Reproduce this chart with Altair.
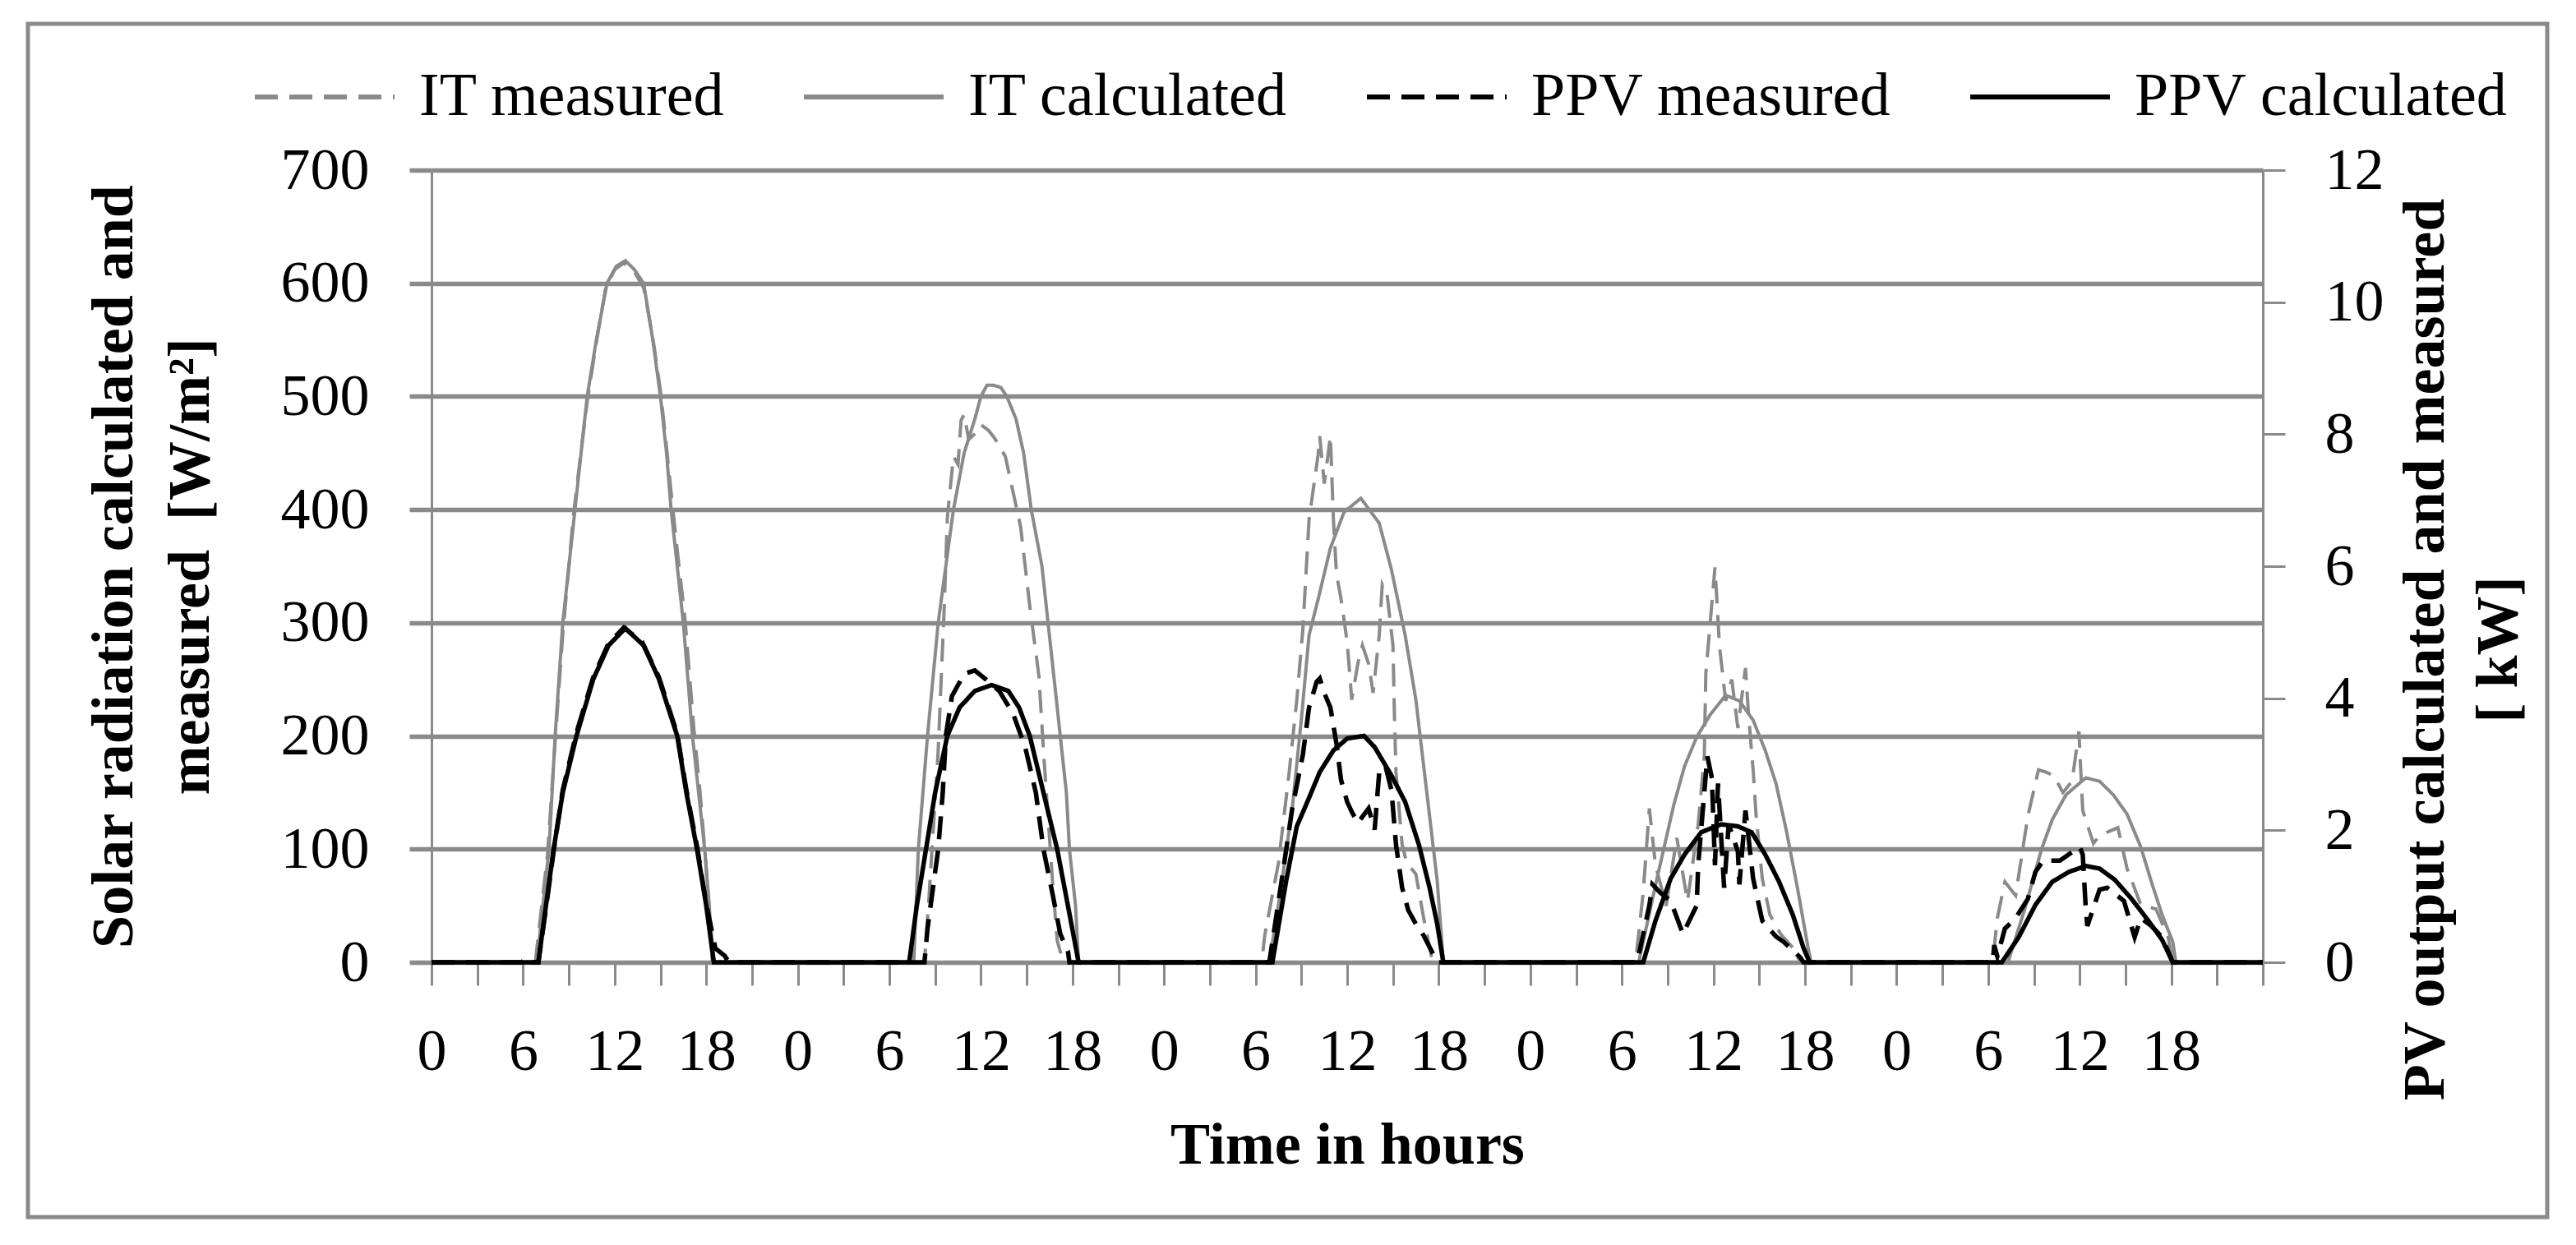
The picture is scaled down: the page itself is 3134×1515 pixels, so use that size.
import altair as alt
import pandas as pd

FONT = "Liberation Serif"
GRID = "#8a8a8a"
LINE_GRAY = "#8a8a8a"

SERIES = ["IT measured", "IT calculated", "PPV measured", "PPV calculated"]
COLORS = [LINE_GRAY, LINE_GRAY, "#000000", "#000000"]
DASHES = [[28, 14], [1, 0], [28, 14], [1, 0]]
N_DAYS = 5
X_TICKS = list(range(0, 121, 3))
LEFT_TICKS = list(range(0, 701, 100))
RIGHT_TICKS = list(range(0, 13, 2))

# hour of day (per day) and value; zero outside listed daylight hours
IT_MEAS_H = [
    [6.8, 7.6, 8.1, 8.6, 9.3, 9.8, 10.2, 10.8, 11.4, 12.0, 12.6, 13.3, 13.9, 14.5, 15.0, 15.4, 15.8, 16.2, 16.6, 16.9, 17.2, 17.6, 17.9, 18.2, 18.5],
    [8.3, 8.6, 9.2, 9.6, 9.8, 10.2, 10.5, 10.7, 10.9, 11.2, 11.6, 12.0, 12.5, 12.9, 13.6, 14.1, 14.6, 15.2, 15.8, 16.1, 16.4, 16.7, 17.0, 17.4],
    [6.4, 6.6, 7.5, 8.2, 8.7, 9.1, 9.5, 10.1, 10.2, 10.5, 10.9, 11.1, 11.3, 11.6, 11.8, 12.0, 12.3, 12.7, 13.0, 13.4, 13.7, 14.1, 14.3, 14.6, 15.0, 15.1, 15.2, 15.6, 15.9, 16.5, 17.0, 17.6],
    [6.9, 7.0, 7.4, 7.8, 8.2, 8.9, 9.6, 10.3, 11.0, 11.4, 11.5, 12.1, 12.4, 12.8, 13.2, 13.6, 14.1, 14.3, 14.6, 14.8, 15.2, 15.7, 16.4, 17.2, 17.7],
    [6.3, 6.6, 7.1, 7.8, 8.6, 9.3, 9.8, 10.3, 10.9, 11.5, 11.95, 12.05, 12.2, 12.9, 13.3, 14.5, 15.1, 16.0, 17.0, 17.8, 18.1],
]
IT_MEAS_V = [
    [0, 95, 195, 290, 395, 452, 495, 548, 595, 612, 618, 610, 596, 552, 505, 455, 402, 352, 305, 255, 205, 150, 100, 48, 0],
    [0, 58, 187, 315, 393, 447, 440, 479, 484, 462, 467, 475, 470, 463, 447, 416, 385, 315, 253, 187, 128, 70, 19, 0],
    [0, 24, 88, 168, 232, 295, 391, 449, 465, 423, 465, 391, 343, 321, 302, 283, 232, 264, 280, 264, 238, 289, 334, 327, 280, 216, 168, 104, 88, 78, 40, 0],
    [0, 13, 62, 136, 86, 50, 110, 54, 122, 182, 255, 349, 279, 231, 250, 207, 260, 219, 170, 129, 74, 42, 25, 13, 0],
    [0, 39, 71, 59, 129, 170, 168, 165, 150, 160, 204, 175, 134, 105, 112, 119, 83, 51, 47, 22, 0],
]

IT_CALC_H = [
    [6.9, 7.7, 8.1, 8.6, 9.4, 9.8, 10.2, 10.8, 11.5, 12.1, 12.7, 13.3, 13.9, 14.5, 15.0, 15.4, 15.7, 16.1, 16.5, 16.8, 17.1, 17.5, 17.9, 18.2, 18.4],
    [7.6, 7.9, 8.5, 9.2, 10.2, 10.9, 11.6, 12.0, 12.4, 12.8, 13.3, 13.7, 14.3, 14.8, 15.3, 16.0, 16.4, 16.8, 17.2, 17.6, 17.8, 18.2, 18.4],
    [6.9, 7.6, 8.4, 9.0, 9.5, 10.1, 10.9, 11.8, 12.9, 14.1, 14.9, 15.8, 16.5, 17.2, 17.9, 18.3],
    [7.1, 8.3, 9.4, 10.1, 10.9, 11.8, 12.8, 13.7, 14.6, 15.4, 16.1, 16.8, 17.5, 18.2, 18.4],
    [7.3, 8.4, 9.5, 10.2, 11.1, 12.4, 13.3, 14.2, 15.1, 16.0, 16.7, 17.4, 18.1, 18.3],
]
IT_CALC_V = [
    [0, 100, 200, 300, 400, 450, 500, 550, 600, 615, 620, 612, 600, 550, 500, 450, 400, 350, 300, 250, 200, 150, 100, 50, 0],
    [0, 100, 200, 300, 400, 450, 480, 500, 510, 510, 508, 500, 480, 450, 400, 350, 300, 250, 200, 150, 100, 50, 0],
    [0, 60, 136, 215, 289, 321, 366, 398, 410, 388, 347, 289, 232, 152, 72, 0],
    [0, 74, 139, 173, 199, 219, 236, 231, 214, 187, 158, 115, 66, 13, 0],
    [0, 47, 100, 126, 148, 163, 160, 148, 131, 102, 71, 42, 18, 0],
]

PPV_MEAS_H = [
    [5.9, 6.3, 6.6, 7.0, 7.5, 8.0, 8.6, 9.5, 10.6, 11.6, 12.6, 13.8, 14.9, 16.1, 16.7, 17.4, 18.0, 18.6, 19.2, 19.5],
    [8.3, 8.5, 9.2, 9.5, 9.7, 10.1, 10.9, 11.6, 12.3, 13.2, 14.1, 14.9, 15.6, 16.1, 16.7, 17.2, 17.7, 17.8],
    [6.9, 7.7, 8.4, 9.1, 9.5, 10.0, 10.2, 10.5, 10.9, 11.3, 11.6, 12.0, 12.3, 12.7, 13.4, 13.8, 14.1, 14.5, 14.9, 15.2, 15.6, 16.0, 16.5, 17.0, 17.6, 17.9],
    [7.0, 7.8, 8.0, 8.5, 9.2, 10.0, 10.9, 11.0, 11.6, 11.9, 12.1, 12.3, 12.7, 13.0, 13.6, 13.7, 14.1, 14.6, 15.2, 16.1, 16.6, 17.7, 17.9],
    [6.3, 6.4, 6.6, 7.1, 7.8, 8.6, 9.1, 9.6, 10.2, 10.7, 12.0, 12.2, 12.4, 12.5, 13.3, 13.8, 14.9, 15.6, 16.0, 16.7, 17.4, 18.1],
]
PPV_MEAS_V = [
    [0, 0.07, 0, 0, 0.82, 1.68, 2.61, 3.48, 4.32, 4.83, 5.07, 4.85, 4.32, 3.46, 2.61, 1.75, 0.89, 0.21, 0.10, 0],
    [0, 0.51, 1.71, 2.57, 3.43, 4.03, 4.37, 4.42, 4.29, 4.11, 3.77, 3.26, 2.57, 1.71, 1.03, 0.43, 0.17, 0],
    [0, 1.23, 2.33, 3.15, 3.86, 4.25, 4.30, 4.08, 3.86, 3.31, 2.76, 2.43, 2.28, 2.11, 2.33, 2.01, 2.88, 2.98, 2.61, 1.78, 1.13, 0.79, 0.58, 0.41, 0.14, 0],
    [0, 0.86, 1.18, 1.06, 0.93, 0.43, 0.86, 1.47, 3.12, 2.79, 1.47, 2.71, 1.13, 2.09, 1.68, 1.18, 2.30, 1.27, 0.63, 0.39, 0.31, 0.07, 0],
    [0, 0.26, 0.09, 0.51, 0.67, 0.96, 1.37, 1.54, 1.54, 1.54, 1.75, 1.63, 0.81, 0.55, 1.10, 1.13, 0.93, 0.38, 0.67, 0.55, 0.38, 0],
]

PPV_CALC_H = [
    [7.0, 7.5, 8.0, 8.6, 9.5, 10.6, 11.6, 12.7, 13.9, 14.9, 16.1, 16.7, 17.4, 18.0, 18.5],
    [7.3, 7.8, 8.4, 9.0, 9.8, 10.6, 11.6, 12.7, 13.8, 14.5, 15.2, 16.1, 17.0, 17.7, 18.4],
    [7.1, 8.0, 8.7, 9.5, 10.2, 11.1, 12.0, 13.1, 13.8, 14.9, 15.8, 16.7, 17.4, 17.9, 18.3],
    [7.4, 8.2, 9.2, 10.1, 11.2, 12.5, 13.6, 14.5, 15.4, 16.3, 17.2, 17.9, 18.3],
    [6.9, 8.0, 9.1, 10.2, 11.3, 12.4, 13.3, 14.3, 15.4, 16.5, 17.4, 18.1],
]
PPV_CALC_V = [
    [0, 0.86, 1.71, 2.57, 3.43, 4.29, 4.80, 5.06, 4.80, 4.29, 3.43, 2.57, 1.71, 0.86, 0],
    [0, 0.86, 1.71, 2.57, 3.43, 3.86, 4.11, 4.20, 4.11, 3.86, 3.43, 2.57, 1.71, 0.86, 0],
    [0, 1.23, 2.06, 2.49, 2.88, 3.21, 3.39, 3.43, 3.26, 2.83, 2.43, 1.78, 1.13, 0.58, 0],
    [0, 0.63, 1.27, 1.63, 1.97, 2.09, 2.06, 1.97, 1.63, 1.22, 0.72, 0.22, 0],
    [0, 0.38, 0.87, 1.22, 1.37, 1.46, 1.42, 1.25, 0.96, 0.63, 0.34, 0],
]


def build(name, hours, values):
    xs, ys = [0.0], [0.0]
    for d in range(N_DAYS):
        for h, v in zip(hours[d], values[d]):
            xs.append(24 * d + h)
            ys.append(v)
    xs.append(120.0)
    ys.append(0.0)
    return pd.DataFrame({"hour": xs, "value": ys, "series": name})


df_it_meas = build(SERIES[0], IT_MEAS_H, IT_MEAS_V)
df_it_calc = build(SERIES[1], IT_CALC_H, IT_CALC_V)
df_ppv_meas = build(SERIES[2], PPV_MEAS_H, PPV_MEAS_V)
df_ppv_calc = build(SERIES[3], PPV_CALC_H, PPV_CALC_V)

PLOT_W, PLOT_H = 2228, 964

x_enc = alt.X(
    "hour:Q",
    scale=alt.Scale(domain=[0, 120], nice=False, zero=True),
    axis=alt.Axis(
        values=X_TICKS,
        labelExpr="datum.value % 6 == 0 && datum.value < 120 ? '' + (datum.value % 24) : ''",
        grid=False, domain=False,
        tickColor=GRID, tickWidth=3, tickSize=28,
        labelPadding=45, labelFontSize=72, labelFont=FONT, labelColor="black",
        labelBaseline="top", labelOverlap=False, labelFlush=False, labelBound=False,
        title="Time in hours", titleFont=FONT, titleFontSize=72, titleFontWeight="bold",
        titleColor="black", titleY=244, titleBaseline="alphabetic",
    ),
)

left_axis = alt.Axis(
    values=LEFT_TICKS, orient="left", grid=True, gridColor=GRID, gridWidth=5.5,
    tickColor=GRID, tickWidth=5.5, tickSize=27, domainColor=GRID, domainWidth=3,
    labelPadding=49, labelFontSize=72, labelFont=FONT, labelColor="black",
    title=["Solar radiation calculated and", "measured \u00a0[W/m²]"],
    titleFont=FONT, titleFontSize=72, titleFontWeight="bold", titleColor="black",
    titleAngle=270, titleX=-387, titleY=482, titleAlign="center",
    titleBaseline="middle", titleLineHeight=93,
)

right_axis = alt.Axis(
    values=RIGHT_TICKS, orient="right", grid=False,
    tickColor=GRID, tickWidth=3, tickSize=27, domainColor=GRID, domainWidth=3,
    labelPadding=48, labelFontSize=72, labelFont=FONT, labelColor="black",
    title=["PV output calculated and measured", "[ kW]"],
    titleFont=FONT, titleFontSize=72, titleFontWeight="bold", titleColor="black",
    titleAngle=270, titleX=197, titleY=583, titleAlign="center",
    titleBaseline="middle", titleLineHeight=89,
)

legend = alt.Legend(
    title=None, orient="none", legendX=-218, legendY=-177, direction="horizontal",
    columns=4, symbolType="stroke", symbolSize=28900, symbolStrokeWidth=6,
    labelFontSize=74, labelFont=FONT, labelColor="black", labelOffset=27,
    columnPadding=84, labelLimit=1000,
)

color_enc = alt.Color("series:N", scale=alt.Scale(domain=SERIES, range=COLORS), legend=legend)
dash_enc = alt.StrokeDash("series:N", scale=alt.Scale(domain=SERIES, range=DASHES), legend=legend)


def line(df, y_scale, axis, width):
    return alt.Chart(df).mark_line(strokeWidth=width, clip=False).encode(
        x=x_enc,
        y=alt.Y("value:Q", scale=y_scale, axis=axis),
        color=color_enc,
        strokeDash=dash_enc,
    )


left_scale = alt.Scale(domain=[0, 700], nice=False)
right_scale = alt.Scale(domain=[0, 12], nice=False)

it_layer = alt.layer(
    line(df_it_meas, left_scale, left_axis, 4),
    line(df_it_calc, left_scale, left_axis, 4),
)
ppv_layer = alt.layer(
    line(df_ppv_meas, right_scale, right_axis, 5.5),
    line(df_ppv_calc, right_scale, right_axis, 5.5),
)

frame = alt.Chart(pd.DataFrame({"k": [0]})).mark_rect(
    fill="white", fillOpacity=0, stroke=GRID, strokeWidth=5
).encode(
    x=alt.value(-491), x2=alt.value(2574), y=alt.value(-178), y2=alt.value(1274)
)

chart = (
    alt.layer(frame, it_layer, ppv_layer)
    .resolve_scale(y="independent")
    .properties(
        width=PLOT_W, height=PLOT_H,
        autosize=alt.AutoSizeParams(type="none"),
        padding={"left": 517, "top": 199, "right": 360, "bottom": 320},
        background="white",
    )
    .configure_view(strokeWidth=0)
)

chart.save("out.html", embed_options={"renderer": "svg", "actions": False})
